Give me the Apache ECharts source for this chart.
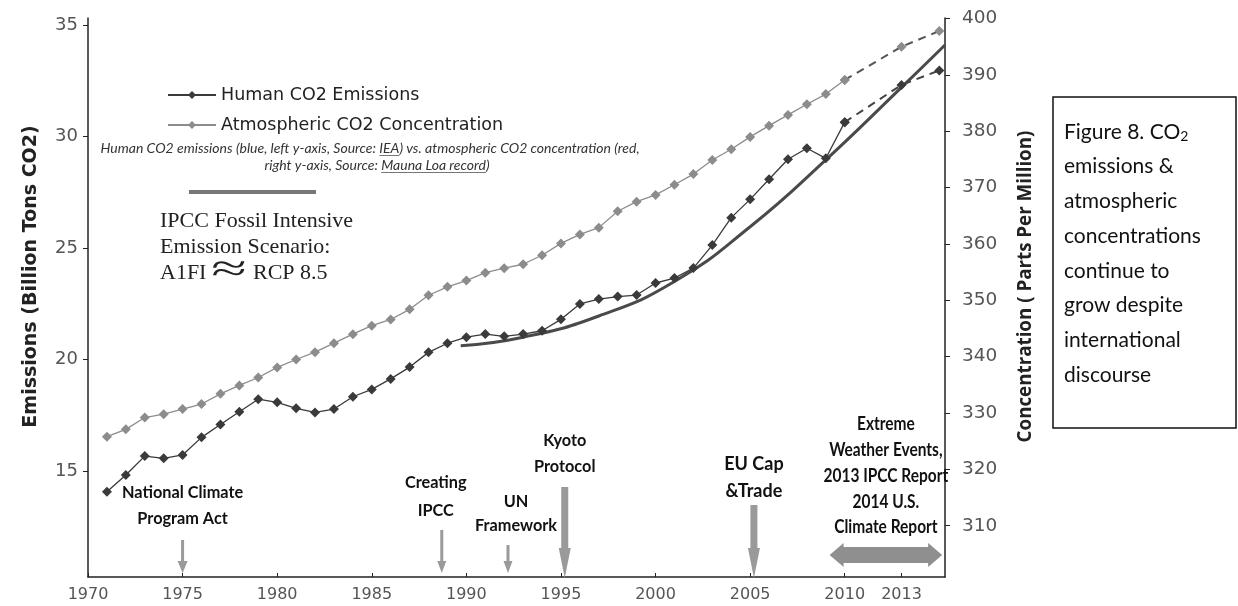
<!DOCTYPE html>
<html><head><meta charset="utf-8">
<script src="https://cdn.jsdelivr.net/npm/echarts@6/dist/echarts.min.js"></script>
<style>html,body{margin:0;padding:0;background:#fff}#c{width:1238px;height:606px}</style>
</head><body><div id="c"></div>
<script>
// ---- data ----
const years = [1971,1972,1973,1974,1975,1976,1977,1978,1979,1980,1981,1982,1983,1984,1985,1986,1987,1988,1989,1990,1991,1992,1993,1994,1995,1996,1997,1998,1999,2000,2001,2002,2003,2004,2005,2006,2007,2008,2009,2010];
const emissions = [14.07,14.82,15.67,15.57,15.72,16.51,17.09,17.66,18.22,18.08,17.81,17.63,17.78,18.33,18.66,19.13,19.66,20.32,20.73,21.00,21.14,21.04,21.14,21.29,21.80,22.49,22.71,22.82,22.89,23.43,23.65,24.10,25.13,26.36,27.18,28.08,28.98,29.47,29.02,30.64];
const concentration = [325.8,327.1,329.2,329.8,330.7,331.6,333.4,334.9,336.3,338.1,339.5,340.8,342.4,344.0,345.5,346.6,348.4,350.9,352.4,353.5,354.9,355.7,356.4,358.0,360.1,361.7,362.9,365.8,367.5,368.7,370.5,372.4,374.9,376.8,379.0,381.0,382.9,384.8,386.6,389.1];
const projYears = [2010, 2013, 2015];
const emissionsProj = [30.64, 32.31, 32.96];
const concentrationProj = [389.1, 395.0, 397.8];
const ipccYears = [1989.7,1993,1997,2001,2005,2009,2013,2015.3];
const ipccValues = [20.62,21.0,21.95,23.5,25.95,28.95,32.2,34.1];
const xTickLabels = [1970,1975,1980,1985,1990,1995,2000,2005,2010,2013];
const leftTicks = [15,20,25,30,35];
const rightTicks = [310,320,330,340,350,360,370,380,390,400];
const eventYears = [1975, 1988.7, 1992.2, 1995.2, 2005.2];
const eventLabels = ['National Climate\nProgram Act','Creating\nIPCC','UN\nFramework','Kyoto\nProtocol','EU Cap\n&Trade'];
const rangeYears = [2009.2, 2015.15];
const rangeLabel = 'Extreme\nWeather Events,\n2013 IPCC Report\n2014 U.S.\nClimate Report';
const note1 = ['Human CO2 emissions (blue, left y-axis, Source: ', 'IEA', ') vs. atmospheric CO2 concentration (red,'];
const note2 = ['right y-axis, Source: ', 'Mauna Loa record', ')'];

// ---- layout (pixels) ----
const eventLayout = [
  {top:540, bottom:573, w:3, hw:10, hl:12, tx:0,  ty:506, lh:26, fs:16.3},
  {top:530, bottom:573, w:3, hw:9,  hl:12, tx:-6, ty:497, lh:28, fs:16.3},
  {top:545, bottom:573, w:3, hw:9,  hl:12, tx:8,  ty:514, lh:24, fs:16.3},
  {top:487, bottom:578, w:7, hw:12, hl:30, tx:0,  ty:454, lh:26, fs:16.3},
  {top:505, bottom:578, w:7, hw:12, hl:30, tx:0,  ty:477.5, lh:27, fs:18}
];
const arrowColor = '#9a9a9a';
const darkC = '#3a3a3a', greyC = '#8c8c8c';
const noteFont = 'italic 14px Lato';

function arrowPoly(x, top, bottom, w, hw, hl){
  return [[x-w/2,top],[x+w/2,top],[x+w/2,bottom-hl],[x+hw/2,bottom-hl],[x,bottom],[x-hw/2,bottom-hl],[x-w/2,bottom-hl]];
}
const mctx = document.createElement('canvas').getContext('2d');
mctx.font = noteFont;
function underline(parts, cx, y){
  const full = mctx.measureText(parts.join('')).width;
  const x0 = cx - full/2 + mctx.measureText(parts[0]).width;
  const w = mctx.measureText(parts[1]).width;
  return {type:'rect', shape:{x:x0, y:y, width:w, height:1}, style:{fill:'#777'}};
}

const chart = echarts.init(document.getElementById('c'), null, {renderer:'canvas'});
const tickFont = {fontFamily:'DejaVu Sans', color:'#555'};

chart.setOption({
  backgroundColor:'#fff',
  animation:false,
  grid:{left:88, right:293, top:18, bottom:29, containLabel:false},
  xAxis:{type:'value', min:1970, max:2015.3,
    axisLine:{lineStyle:{color:'#222', width:1.5}},
    axisTick:{show:true, inside:true, length:4, customValues:xTickLabels, lineStyle:{color:'#222'}},
    axisLabel:{customValues:xTickLabels, margin:10, formatter:v=>String(v), ...tickFont, fontSize:16},
    splitLine:{show:false}},
  yAxis:[
    {type:'value', min:10.25, max:35.31, position:'left',
     axisLine:{show:true, lineStyle:{color:'#222', width:1.5}},
     axisTick:{show:true, length:5, customValues:leftTicks, lineStyle:{color:'#222'}},
     axisLabel:{customValues:leftTicks, margin:10, formatter:v=>String(v), ...tickFont, fontSize:18},
     splitLine:{show:false}},
    {type:'value', min:300.9, max:400.1, position:'right',
     axisLine:{show:true, lineStyle:{color:'#222', width:1.5}},
     axisTick:{show:true, length:5, customValues:rightTicks, lineStyle:{color:'#222'}},
     axisLabel:{customValues:rightTicks, margin:17, formatter:v=>String(v), ...tickFont, fontSize:18.5},
     splitLine:{show:false}}
  ],
  legend:{data:['Human CO2 Emissions','Atmospheric CO2 Concentration'], orient:'vertical', left:167, top:86, padding:0,
    itemWidth:48, itemHeight:10, itemGap:12,
    textStyle:{fontFamily:'DejaVu Sans', fontSize:17.5, color:'#222', lineHeight:18}},
  series:[
    {name:'Human CO2 Emissions', type:'line', yAxisIndex:0, data:years.map((y,i)=>[y,emissions[i]]),
     symbol:'diamond', symbolSize:10, lineStyle:{color:darkC, width:1.3}, itemStyle:{color:darkC}, z:4},
    {name:'Atmospheric CO2 Concentration', type:'line', yAxisIndex:1, data:years.map((y,i)=>[y,concentration[i]]),
     symbol:'diamond', symbolSize:10, lineStyle:{color:greyC, width:1.3}, itemStyle:{color:greyC}, z:4},
    {name:'Emissions projection', type:'line', yAxisIndex:0, data:projYears.map((y,i)=>[y,emissionsProj[i]]),
     symbol:'diamond', symbolSize:10, showSymbol:true, lineStyle:{color:'#444', width:2, type:[8,6]},
     itemStyle:{color:darkC}, z:3},
    {name:'Concentration projection', type:'line', yAxisIndex:1, data:projYears.map((y,i)=>[y,concentrationProj[i]]),
     symbol:'diamond', symbolSize:10, lineStyle:{color:'#555', width:2, type:[8,6]},
     itemStyle:{color:greyC}, z:3},
    {name:'IPCC A1FI', type:'line', yAxisIndex:0, data:ipccYears.map((y,i)=>[y,ipccValues[i]]),
     symbol:'none', smooth:0.5, lineStyle:{color:'#4a4a4a', width:3}, z:2},
    {name:'events', type:'custom', yAxisIndex:0, data:eventYears.map((y,i)=>[y,i]), z:5,
     renderItem:function(params, api){
       const i = params.dataIndex, L = eventLayout[i];
       const x = api.coord([api.value(0), 20])[0];
       return {type:'group', children:[
         {type:'polygon', shape:{points:arrowPoly(x, L.top, L.bottom, L.w, L.hw, L.hl)}, style:{fill:arrowColor}},
         {type:'text', x:x+L.tx, y:L.ty, style:{text:eventLabels[i], align:'center', verticalAlign:'middle',
           fontFamily:'Lato', fontWeight:'bold', fontSize:L.fs, lineHeight:L.lh, fill:'#111'}}
       ]};
     }},
    {name:'range', type:'custom', yAxisIndex:0, data:[[rangeYears[0], rangeYears[1]]], z:5,
     renderItem:function(params, api){
       const x1 = api.coord([api.value(0), 20])[0], x2 = api.coord([api.value(1), 20])[0];
       const yc = 555, h = 16, hw = 24, hl = 14;
       return {type:'group', children:[
         {type:'polygon', shape:{points:[[x1,yc],[x1+hl,yc-hw/2],[x1+hl,yc-h/2],[x2-hl,yc-h/2],[x2-hl,yc-hw/2],[x2,yc],[x2-hl,yc+hw/2],[x2-hl,yc+h/2],[x1+hl,yc+h/2],[x1+hl,yc+hw/2]]},
          style:{fill:'#8f8f8f'}},
         {type:'text', x:(x1+x2)/2, y:476, scaleX:0.86, style:{text:rangeLabel, align:'center', verticalAlign:'middle',
           fontFamily:'Lato', fontWeight:'bold', fontSize:18, lineHeight:25.7, fill:'#111'}}
       ]};
     }}
  ],
  graphic:[
    {type:'text', x:31, y:276.5, rotation:Math.PI/2, style:{text:'Emissions (Billion Tons CO2)', align:'center', verticalAlign:'middle',
      fontFamily:'DejaVu Sans', fontWeight:'bold', fontSize:19, fill:'#222'}},
    {type:'text', x:1026, y:286.5, rotation:Math.PI/2, style:{text:'Concentration ( Parts Per Million)', align:'center', verticalAlign:'middle',
      fontFamily:'Open Sans', fontWeight:'bold', fontSize:18.75, fill:'#222'}},
    {type:'text', x:370, y:148, style:{text:note1.join(''), align:'center', verticalAlign:'middle',
      fontFamily:'Lato', fontStyle:'italic', fontSize:14, fill:'#333'}},
    {type:'text', x:377, y:165, style:{text:note2.join(''), align:'center', verticalAlign:'middle',
      fontFamily:'Lato', fontStyle:'italic', fontSize:14, fill:'#333'}},
    underline(note1, 370, 155),
    underline(note2, 377, 172),
    {type:'rect', shape:{x:189, y:190, width:127, height:4}, style:{fill:'#777'}},
    {type:'text', x:160, y:221, style:{text:'IPCC Fossil Intensive', verticalAlign:'middle', fontFamily:'Liberation Serif', fontSize:22, fill:'#222'}},
    {type:'text', x:160, y:247, style:{text:'Emission Scenario:', verticalAlign:'middle', fontFamily:'Liberation Serif', fontSize:22, fill:'#222'}},
    {type:'text', x:160, y:273, style:{text:'A1FI', verticalAlign:'middle', fontFamily:'Liberation Serif', fontSize:22, fill:'#222'}},
    {type:'text', x:229, y:271, scaleX:1.7, style:{text:'≈', align:'center', verticalAlign:'middle', fontFamily:'Liberation Serif', fontSize:38, fill:'#222'}},
    {type:'text', x:253, y:273, style:{text:'RCP 8.5', verticalAlign:'middle', fontFamily:'Liberation Serif', fontSize:22, fill:'#222'}},
    {type:'rect', shape:{x:1053, y:97, width:183, height:331}, style:{fill:'#fff', stroke:'#111', lineWidth:1.5}},
    {type:'text', x:1064, y:132, style:{rich:{n:{fontFamily:'Lato', fontSize:21, fill:'#111'}, s:{fontFamily:'Lato', fontSize:14, fill:'#111', padding:[8,0,0,0]}},
      text:'{n|Figure 8. CO}{s|2}', verticalAlign:'middle'}},
    {type:'text', x:1064, y:149.3, style:{text:'emissions &\natmospheric\nconcentrations\ncontinue to\ngrow despite\ninternational\ndiscourse', verticalAlign:'top',
      fontFamily:'Lato', fontSize:21, lineHeight:34.7, fill:'#111'}}
  ]
});
</script></body></html>
